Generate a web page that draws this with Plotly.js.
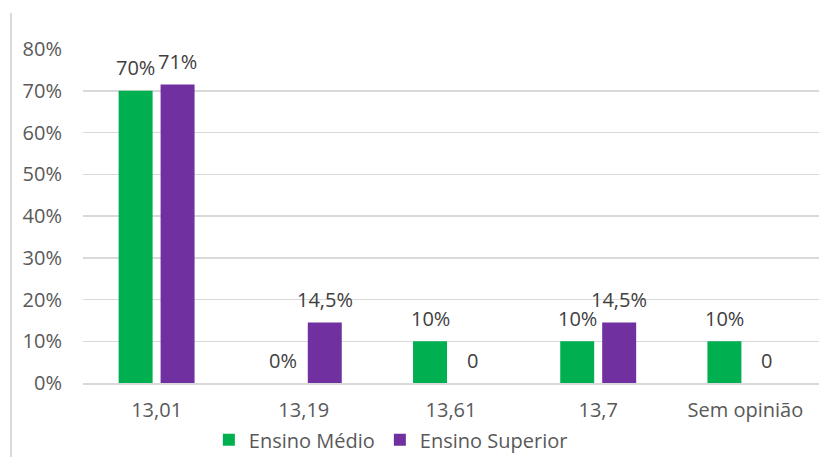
<!DOCTYPE html>
<html>
<head>
<meta charset="utf-8">
<script src="https://cdn.plot.ly/plotly-3.0.1.min.js"></script>
<style>html,body{margin:0;padding:0;background:#fff;}#chart{width:832px;height:457px;}</style>
</head>
<body>
<div id="chart"></div>
<script>
const categories = ["13,01", "13,19", "13,61", "13,7", "Sem opinião"];
const medioValues = [0.70, 0, 0.10, 0.10, 0.10];
const superiorValues = [0.715, 0.145, 0, 0.145, 0];
const medioLabels = ["70%", "0%", "10%", "10%", "10%"];
const superiorLabels = ["71%", "14,5%", "0", "14,5%", "0"];
const yTickVals = [0, 0.1, 0.2, 0.3, 0.4, 0.5, 0.6, 0.7, 0.8];
const yTickText = ["0%", "10%", "20%", "30%", "40%", "50%", "60%", "70%", "80%"];

const FONT = "Open Sans, sans-serif";
const traces = [
  {type: "bar", name: "Ensino Médio", x: categories, y: medioValues, marker: {color: "#00B050"}, hoverinfo: "none"},
  {type: "bar", name: "Ensino Superior", x: categories, y: superiorValues, marker: {color: "#7030A0"}, hoverinfo: "none"}
];

const annotations = [];
categories.forEach((c, i) => {
  annotations.push({x: c, y: medioValues[i], xref: "x", yref: "y", text: medioLabels[i], showarrow: false,
    xshift: -21, yshift: 23, yanchor: "middle", font: {family: FONT, size: 20, color: "#404040"}});
  annotations.push({x: c, y: superiorValues[i], xref: "x", yref: "y", text: superiorLabels[i], showarrow: false,
    xshift: 21, yshift: 23, yanchor: "middle", font: {family: FONT, size: 20, color: "#404040"}});
});

const layout = {
  width: 832, height: 457,
  margin: {l: 83, r: 13, t: 49, b: 74, pad: 0, autoexpand: false},
  paper_bgcolor: "#fff", plot_bgcolor: "#fff",
  barmode: "group", bargap: 0.43, bargroupgap: 0.19,
  font: {family: FONT, size: 20, color: "#595959"},
  showlegend: true,
  legend: {orientation: "h", x: 0.171, xanchor: "left", y: -0.17, yanchor: "middle", bgcolor: "rgba(0,0,0,0)",
    font: {family: FONT, size: 20, color: "#595959"}, itemwidth: 30, traceorder: "normal"},
  xaxis: {type: "category", showgrid: false, showline: true, linecolor: "#d9d9d9", linewidth: 1.5,
    ticks: "", ticklabelstandoff: 8, tickfont: {family: FONT, size: 20, color: "#595959"}, fixedrange: true},
  yaxis: {range: [0, 0.8], tickvals: yTickVals, ticktext: yTickText, showgrid: true, gridcolor: "#d9d9d9", gridwidth: 1.5,
    zeroline: false, showline: false, ticks: "", ticklabelstandoff: 20,
    tickfont: {family: FONT, size: 20, color: "#595959"}, fixedrange: true},
  annotations: annotations,
  shapes: [{type: "line", xref: "paper", yref: "paper", x0: -0.0978, x1: -0.0978, y0: 1.108, y1: -0.23,
    line: {color: "#d9d9d9", width: 2}}]
};

Plotly.newPlot("chart", traces, layout, {displayModeBar: false, staticPlot: true});
</script>
</body>
</html>
